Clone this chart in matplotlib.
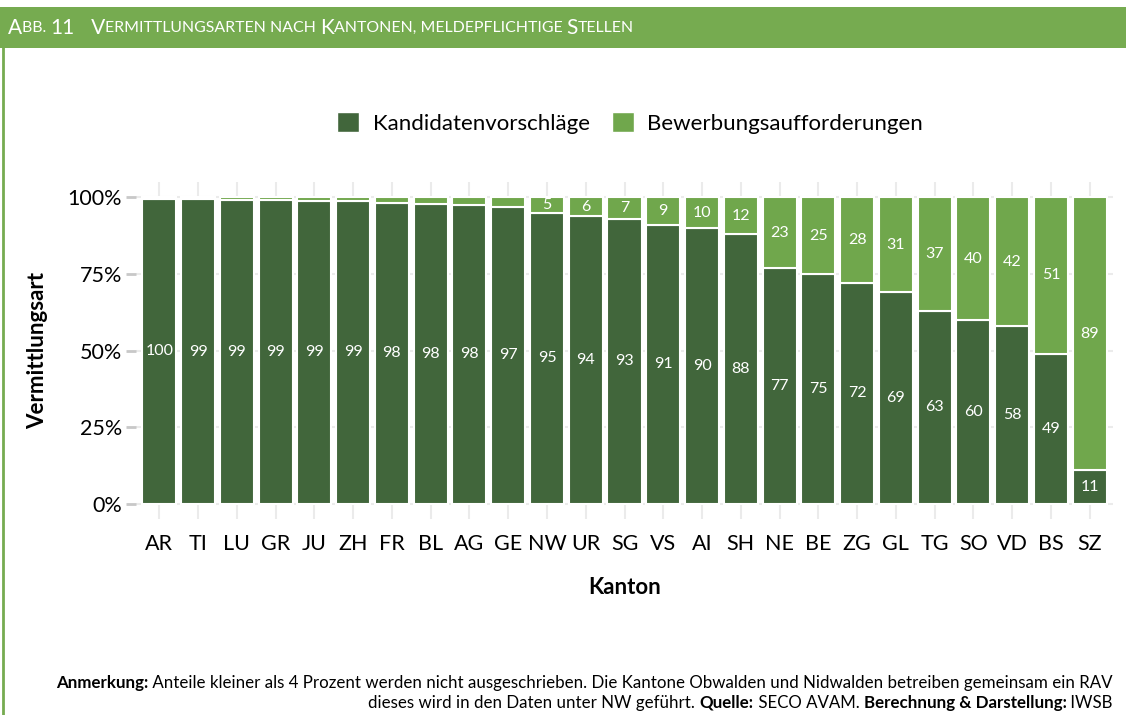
import matplotlib
matplotlib.use("Agg")
import matplotlib.pyplot as plt
from matplotlib.patches import Rectangle, Patch
from matplotlib.lines import Line2D
from matplotlib.ticker import FuncFormatter

plt.rcParams['font.family'] = ['Lato', 'DejaVu Sans']

# data
kantone = ['AR', 'TI', 'LU', 'GR', 'JU', 'ZH', 'FR', 'BL', 'AG', 'GE', 'NW', 'UR', 'SG',
           'VS', 'AI', 'SH', 'NE', 'BE', 'ZG', 'GL', 'TG', 'SO', 'VD', 'BS', 'SZ']
kandidaten = [99.6, 99.3, 99.1, 99.0, 98.9, 98.8, 98.1, 97.9, 97.6, 96.9, 95, 94, 93,
              91, 90, 88, 77, 75, 72, 69, 63, 60, 58, 49, 11]
bewerbung = [0.4, 0.7, 0.9, 1.0, 1.1, 1.2, 1.9, 2.1, 2.4, 3.1, 5, 6, 7,
             9, 10, 12, 23, 25, 28, 31, 37, 40, 42, 51, 89]
label_kand = [100, 99, 99, 99, 99, 99, 98, 98, 98, 97, 95, 94, 93,
              91, 90, 88, 77, 75, 72, 69, 63, 60, 58, 49, 11]
label_bew = [0, 1, 1, 1, 1, 1, 2, 2, 2, 3, 5, 6, 7,
             9, 10, 12, 23, 25, 28, 31, 37, 40, 42, 51, 89]
series_names = ['Kandidatenvorschläge', 'Bewerbungsaufforderungen']

DARK = '#41663b'
LIGHT = '#70a74c'
HEAD = '#76ab50'
W, H = 1126, 715

fig = plt.figure(figsize=(11.26, 7.15), dpi=100)
ax = fig.add_axes([136 / W, 1 - 519 / H, 977 / W, 337 / H])

x = list(range(len(kantone)))
ax.bar(x, kandidaten, width=0.88, color=DARK, edgecolor='white', linewidth=1.5, zorder=3)
ax.bar(x, bewerbung, bottom=kandidaten, width=0.88, color=LIGHT, edgecolor='white',
       linewidth=1.5, zorder=3)

for i in x:
    if label_kand[i] >= 4:
        ax.text(i, kandidaten[i] / 2, str(label_kand[i]), ha='center', va='center',
                color='white', fontsize=11.5, zorder=4)
    if label_bew[i] >= 4:
        ax.text(i, kandidaten[i] + bewerbung[i] / 2, str(label_bew[i]), ha='center',
                va='center', color='white', fontsize=11.5, zorder=4)

ax.set_xlim(-0.6, len(kantone) - 0.4)
ax.set_ylim(-5, 105)
ax.set_yticks([0, 25, 50, 75, 100])
ax.yaxis.set_major_formatter(FuncFormatter(lambda v, p: '%d%%' % v))
ax.set_xticks(x)
ax.set_xticklabels(kantone)
ax.grid(True, color='#ebebeb', linewidth=1.5, zorder=0)
ax.set_axisbelow(True)
for s in ax.spines.values():
    s.set_visible(False)
ax.tick_params(axis='y', length=7, width=2, color='#c8c8c8', labelsize=15.5, pad=3)
ax.tick_params(axis='x', length=0, labelsize=15.5, pad=11)
ax.set_xlabel('Kanton', fontsize=16, fontweight='bold', labelpad=16)
ax.set_ylabel('Vermittlungsart', fontsize=16, fontweight='bold', labelpad=14)

handles = [Patch(facecolor=DARK, edgecolor='white'), Patch(facecolor=LIGHT, edgecolor='white')]
fig.legend(handles, series_names, loc='center', bbox_to_anchor=(630 / W, 1 - 123 / H),
           ncol=2, frameon=False, fontsize=16, handlelength=1.0, handleheight=1.0,
           handletextpad=0.6, columnspacing=1.0)

# header band and left border
fig.patches.append(Rectangle((0, 1 - 48 / H), 1, 41 / H, transform=fig.transFigure,
                             facecolor=HEAD, edgecolor='none'))
fig.lines.append(Line2D([3 / W, 3 / W], [0, 1 - 48 / H], transform=fig.transFigure,
                        color=HEAD, linewidth=2))

renderer = fig.canvas.get_renderer()


def draw_runs(runs, xpx, ypx, ha='left'):
    texts, widths = [], []
    for s, kw in runs:
        t = fig.text(0, 1 - ypx / H, s, va='center', ha='left', **kw)
        prop = t.get_fontproperties()
        w = renderer.get_text_width_height_descent(s + '|', prop, False)[0] - \
            renderer.get_text_width_height_descent('|', prop, False)[0]
        texts.append(t)
        widths.append(w)
    pos = xpx - (sum(widths) if ha == 'right' else 0)
    for t, w in zip(texts, widths):
        t.set_x(pos / W)
        pos += w


big = dict(fontsize=15, color='white')
small = dict(fontsize=11.4, color='white')
draw_runs([('A', big), ('BB. ', small), ('11', big), ('   V', big),
           ('ERMITTLUNGSARTEN NACH ', small), ('K', big),
           ('ANTONEN, MELDEPFLICHTIGE ', small), ('S', big), ('TELLEN', small)], 8, 28)

nb = dict(fontsize=12.2, fontweight='bold', color='black')
nn = dict(fontsize=12.2, color='black')
draw_runs([('Anmerkung:', nb),
           (' Anteile kleiner als 4 Prozent werden nicht ausgeschrieben. Die Kantone Obwalden '
            'und Nidwalden betreiben gemeinsam ein RAV', nn)], 1113, 683, ha='right')
draw_runs([('dieses wird in den Daten unter NW geführt. ', nn), ('Quelle:', nb),
           (' SECO AVAM. ', nn), ('Berechnung & Darstellung:', nb), (' IWSB', nn)],
          1113, 703, ha='right')

fig.savefig('out.png', dpi=100)
